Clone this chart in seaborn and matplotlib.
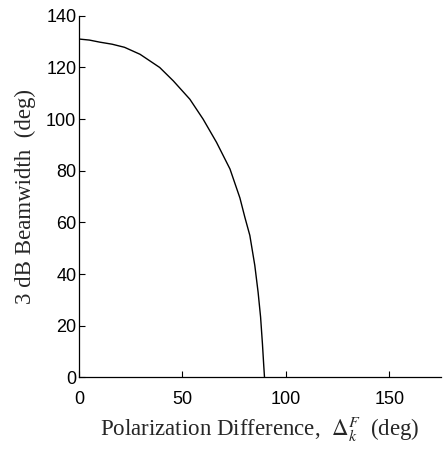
import pandas as pd
import seaborn as sns
import matplotlib.pyplot as plt

# values
pol_diff = [0, 5, 10, 16, 22, 29.5, 39, 45.6, 53.6, 60, 66.5, 73, 77.8,
            80.2, 82.6, 85, 86.6, 87.8, 88.7, 89.3, 89.7]
beamwidth = [131, 130.6, 129.8, 129, 127.8, 125.1, 120, 114.8, 107.7, 100, 91,
             80.7, 69.5, 62, 55, 43.4, 33, 23.4, 13, 5, 0]

x_ticks = [0, 50, 100, 150]
y_ticks = [0, 20, 40, 60, 80, 100, 120, 140]

df = pd.DataFrame({'pol_diff': pol_diff, 'beamwidth': beamwidth})

sns.set_style("ticks")
plt.rcParams['font.family'] = ['Liberation Serif', 'DejaVu Serif']
plt.rcParams['mathtext.fontset'] = 'stix'

fig = plt.figure(figsize=(4.44, 4.51), dpi=100)
ax = fig.add_axes([0.178, 0.163, 0.815, 0.802])

sns.lineplot(x='pol_diff', y='beamwidth', data=df, color='black', linewidth=1.0, ax=ax)

ax.set_xlim(0, 175)
ax.set_ylim(0, 140)
ax.set_xticks(x_ticks)
ax.set_yticks(y_ticks)
ax.tick_params(direction='in', length=4, width=0.8, colors='black', pad=2)
ax.tick_params(axis='x', pad=10)
for lbl in ax.get_xticklabels() + ax.get_yticklabels():
    lbl.set_family('Liberation Sans')
    lbl.set_fontsize(13)

sns.despine(ax=ax)
for s in ['left', 'bottom']:
    ax.spines[s].set_color('black')
    ax.spines[s].set_linewidth(0.9)

ax.set_xlabel(r'Polarization Difference,  $\Delta_k^F$  (deg)', fontsize=16.5, labelpad=5)
ax.set_ylabel('3 dB Beamwidth  (deg)', fontsize=16.5, labelpad=7)

fig.savefig('out.png', dpi=100, facecolor='white')
